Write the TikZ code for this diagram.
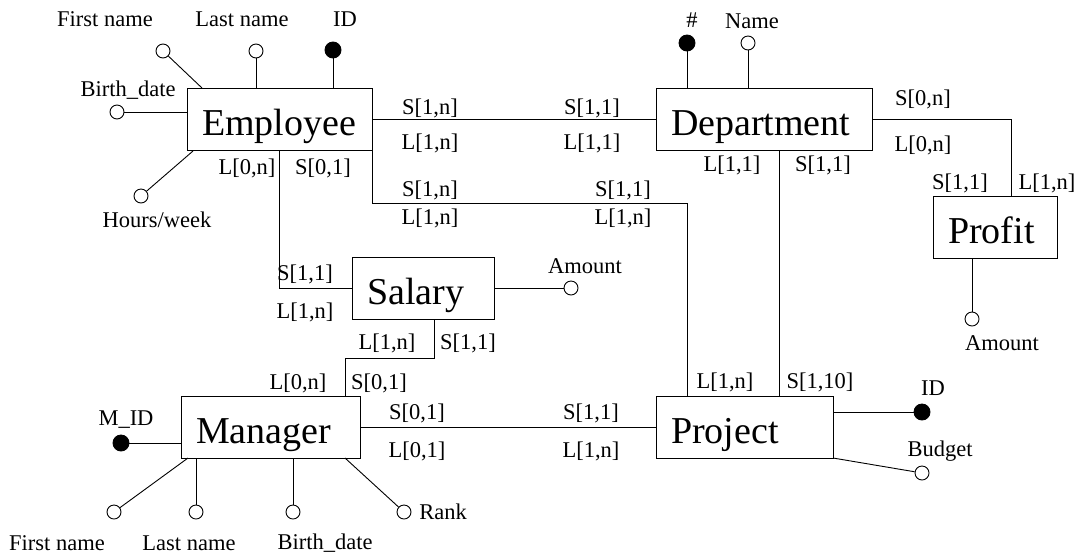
\documentclass[tikz,border=0pt]{standalone}
\usepackage{fontspec}
\setmainfont{Liberation Serif}
\begin{document}
\begin{tikzpicture}[x=1pt,y=-1pt,
  line width=0.9pt,
  entity/.style={draw, rectangle, inner xsep=15pt, inner ysep=0pt,
    text height=47pt, text depth=15pt, align=left,
    font=\fontsize{38}{40}\selectfont},
  lbl/.style={inner sep=0pt, font=\fontsize{22.5}{24}\selectfont},
  attr/.style={draw, circle, fill=white, minimum size=14pt, inner sep=0pt},
  keyattr/.style={draw, circle, fill=black, minimum size=16pt, inner sep=0pt}]
\useasboundingbox (0,0) rectangle (1078,558);

% entities
\node[entity, text width=155pt] (emp) at (279.5,119) {Employee};
\node[entity, text width=186pt] (dept) at (764,119) {Department};
\node[entity, text width=94pt] (prof) at (995,227) {Profit};
\node[entity, text width=112pt] (sal) at (423,288) {Salary};
\node[entity, text width=149pt] (man) at (270.5,427) {Manager};
\node[entity, text width=147pt] (proj) at (744.5,427) {Project};

% relationship connectors
\draw (emp.east) -- (dept.west);
\coordinate (ep) at (687,203);
\draw (emp.south east) |- (ep) -- (ep |- proj.north);
\draw (emp.south) |- (sal.west);
\coordinate (sm1) at (434,358);
\coordinate (sm2) at (345,358);
\draw (sm1 |- sal.south) -- (sm1) -- (sm2) -- (sm2 |- man.north);
\draw (man.east) -- (proj.west);
\coordinate (dp) at (779,270);
\draw (dp |- dept.south) -- (dp |- proj.north);
\coordinate (pf) at (1011,196);
\draw (dept.east) -| (pf);

% attribute end points on boxes
\coordinate (efn) at (202,88);
\coordinate (ehw) at (193,151);
\coordinate (mfnp) at (188,458);
\coordinate (mrkp) at (345,458);
\coordinate (pbp) at (833,458);
\coordinate (pap) at (972,258);

% Employee attributes
\node[attr] (fn) at (163,51) {};
\node[attr] (ln) at (256,51) {};
\node[keyattr] (eid) at (333,50) {};
\node[attr] (bd) at (117,112) {};
\node[attr] (hw) at (141,196) {};
\draw (fn) -- (efn);
\draw (ln) -- (ln |- emp.north);
\draw (eid) -- (eid |- emp.north);
\draw (bd) -- (bd -| emp.west);
\draw (hw) -- (ehw);
\node[lbl] (fnl) at (105,19.5) {First name};
\node[lbl] (lnl) at (242,19.5) {Last name};
\node[lbl] (eidl) at (345,19.5) {ID};
\node[lbl] (bdl) at (128,90) {Birth\_date};
\node[lbl] (hwl) at (157,220) {Hours/week};

% Department attributes
\node[keyattr] (dno) at (687,43) {};
\node[attr] (dname) at (748,43) {};
\draw (dno) -- (dno |- dept.north);
\draw (dname) -- (dname |- dept.north);
\node[lbl] (dnol) at (692,20) {\#};
\node[lbl] (dnamel) at (752,21) {Name};

% Project attributes
\node[keyattr] (pid) at (922,412) {};
\node[attr] (pbud) at (922,473) {};
\draw (pid) -- (pid -| proj.east);
\draw (pbud) -- (pbp);
\node[lbl] (pidl) at (933,388) {ID};
\node[lbl] (pbudl) at (940,451) {Budget};

% Manager attributes
\node[keyattr] (mid) at (121,443) {};
\node[attr] (mfn) at (114,512) {};
\node[attr] (mln) at (196,512) {};
\node[attr] (mbd) at (293,512) {};
\node[attr] (mrk) at (404,512) {};
\draw (mid) -- (mid -| man.west);
\draw (mfn) -- (mfnp);
\draw (mln) -- (mln |- man.south);
\draw (mbd) -- (mbd |- man.south);
\draw (mrk) -- (mrkp);
\node[lbl] (midl) at (126,420) {M\_ID};
\node[lbl] (mfnl) at (57,543) {First name};
\node[lbl] (mlnl) at (189,543) {Last name};
\node[lbl] (mbdl) at (325,543) {Birth\_date};
\node[lbl, anchor=west] (mrkl) at (419,512) {Rank};

% Salary / Profit amounts
\node[attr] (samt) at (571,288) {};
\draw (sal.east) -- (samt);
\node[lbl] (samtl) at (585,266) {Amount};
\node[attr] (pamt) at (972,319) {};
\draw (pap) -- (pamt);
\node[lbl] (pamtl) at (1002,343) {Amount};

% cardinalities
\node[lbl] (c1) at (430,108) {S[1,n]};
\node[lbl] (c2) at (430,143) {L[1,n]};
\node[lbl] (c3) at (592,108) {S[1,1]};
\node[lbl] (c4) at (592,143) {L[1,1]};
\node[lbl] (c5) at (430,190) {S[1,n]};
\node[lbl] (c6) at (430,218) {L[1,n]};
\node[lbl] (c7) at (623,190) {S[1,1]};
\node[lbl] (c8) at (623,218) {L[1,n]};
\node[lbl] (c9) at (247,168) {L[0,n]};
\node[lbl] (c10) at (323,168) {S[0,1]};
\node[lbl] (c11) at (305,274) {S[1,1]};
\node[lbl] (c12) at (305,312) {L[1,n]};
\node[lbl] (c13) at (387,343) {L[1,n]};
\node[lbl] (c14) at (468,343) {S[1,1]};
\node[lbl] (c15) at (298,383) {L[0,n]};
\node[lbl] (c16) at (379,383) {S[0,1]};
\node[lbl] (c17) at (417,413) {S[0,1]};
\node[lbl] (c18) at (417,451) {L[0,1]};
\node[lbl] (c19) at (591,413) {S[1,1]};
\node[lbl] (c20) at (591,451) {L[1,n]};
\node[lbl] (c21) at (732,165) {L[1,1]};
\node[lbl] (c22) at (823,165) {S[1,1]};
\node[lbl] (c23) at (725,382) {L[1,n]};
\node[lbl] (c24) at (820,382) {S[1,10]};
\node[lbl] (c25) at (923,99) {S[0,n]};
\node[lbl] (c26) at (923,145) {L[0,n]};
\node[lbl] (c27) at (960,183) {S[1,1]};
\node[lbl] (c28) at (1047,183) {L[1,n]};
\end{tikzpicture}
\end{document}
